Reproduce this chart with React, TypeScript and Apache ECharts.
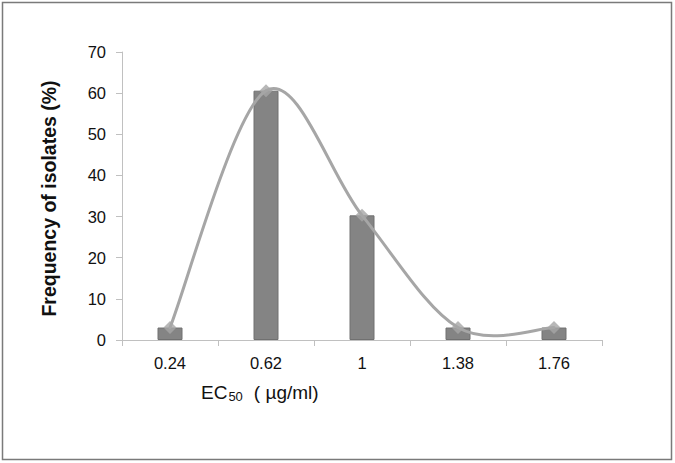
import React, { useEffect, useRef } from "react";
import * as echarts from "echarts";

const categories = ["0.24", "0.62", "1", "1.38", "1.76"];
const barValues = [3.03, 60.6, 30.3, 3.03, 3.03];
const lineValues = [3.03, 60.6, 30.3, 3.03, 3.03];
const yTicks = { min: 0, max: 70, interval: 10 };
const yTitle = "Frequency of isolates (%)";

const FONT = "'Liberation Sans', Arial, sans-serif";

export default function App() {
  const ref = useRef<HTMLDivElement>(null);
  useEffect(() => {
    document.body.style.margin = "0";
    const chart = echarts.init(ref.current!, null, { renderer: "svg" });
    const n = lineValues.length;
    chart.setOption({
      animation: false,
      backgroundColor: "#ffffff",
      grid: { left: 122, right: 73, top: 52, bottom: 123, containLabel: false },
      xAxis: {
        type: "category",
        data: categories,
        boundaryGap: true,
        axisLine: { lineStyle: { color: "#c0c0c0", width: 1 } },
        axisTick: { show: true, length: 6, lineStyle: { color: "#c0c0c0" } },
        axisLabel: { color: "#111", fontSize: 16.5, fontFamily: FONT, margin: 14 },
        splitLine: { show: false },
      },
      yAxis: {
        type: "value",
        min: yTicks.min,
        max: yTicks.max,
        interval: yTicks.interval,
        axisLine: { show: true, lineStyle: { color: "#c0c0c0", width: 1 } },
        axisTick: { show: true, length: 6, lineStyle: { color: "#c0c0c0" } },
        axisLabel: { color: "#111", fontSize: 16.5, fontFamily: FONT, margin: 16 },
        splitLine: { show: false },
      },
      graphic: [
        {
          type: "rect",
          shape: { x: 2.5, y: 2.5, width: 669, height: 457 },
          style: { fill: "transparent", stroke: "#7a7a7a", lineWidth: 1.5 },
          silent: true,
          z: -10,
        },
        {
          type: "text",
          x: 48.5,
          y: 198.5,
          rotation: Math.PI / 2,
          style: {
            text: yTitle,
            textAlign: "center",
            textVerticalAlign: "middle",
            fontSize: 19.5,
            fontWeight: "bold",
            fontFamily: FONT,
            fill: "#111",
          },
        },
        {
          type: "text",
          x: 201,
          y: 392,
          style: {
            text: "{a|EC}{s|50}{a|( µg/ml)}",
            textVerticalAlign: "middle",
            rich: {
              a: { fontSize: 19, fontFamily: FONT, fill: "#111", lineHeight: 21, verticalAlign: "middle" },
              s: { fontSize: 13, fontFamily: FONT, fill: "#111", lineHeight: 21, verticalAlign: "bottom", padding: [0, 11, 0, 1] },
            },
          },
        },
      ],
      series: [
        {
          type: "bar",
          data: barValues,
          barWidth: 25,
          itemStyle: { color: "#848484", borderColor: "#707070", borderWidth: 1 },
          z: 2,
        },
        {
          type: "custom",
          data: lineValues.map((v, i) => [i, v]),
          encode: { x: 0, y: 1 },
          z: 3,
          silent: true,
          renderItem: (params: any, api: any) => {
            const i = params.dataIndex;
            if (i >= n - 1) return { type: "group", children: [] };
            const P = (k: number) => api.coord([k, lineValues[k]]);
            const p0 = P(Math.max(i - 1, 0));
            const p1 = P(i);
            const p2 = P(i + 1);
            const p3 = P(Math.min(i + 2, n - 1));
            return {
              type: "bezierCurve",
              shape: {
                x1: p1[0],
                y1: p1[1],
                x2: p2[0],
                y2: p2[1],
                cpx1: p1[0] + (p2[0] - p0[0]) / 6,
                cpy1: p1[1] + (p2[1] - p0[1]) / 6,
                cpx2: p2[0] - (p3[0] - p1[0]) / 6,
                cpy2: p2[1] - (p3[1] - p1[1]) / 6,
              },
              style: { stroke: "#a6a6a6", lineWidth: 3, fill: "none", lineCap: "round" },
            };
          },
        },
        {
          type: "scatter",
          data: lineValues,
          symbol: "diamond",
          symbolSize: 13,
          itemStyle: { color: "#a6a6a6" },
          z: 4,
        },
      ],
    });
    return () => chart.dispose();
  }, []);
  return <div ref={ref} style={{ width: 675, height: 463 }} />;
}
